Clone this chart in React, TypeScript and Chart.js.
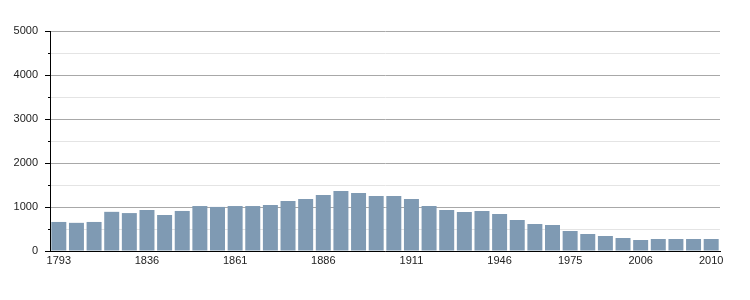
import React, { useEffect, useRef } from "react";
import { Chart, registerables } from "chart.js";

Chart.register(...registerables);

const years = [
  "1793", "1800", "1806", "1821", "1831", "1836", "1841", "1846", "1851", "1856",
  "1861", "1866", "1872", "1876", "1881", "1886", "1891", "1896", "1901", "1906",
  "1911", "1921", "1926", "1931", "1936", "1946", "1954", "1962", "1968", "1975",
  "1982", "1990", "1999", "2006", "2007", "2008", "2009", "2010",
];

const population = [
  660, 640, 660, 890, 862, 932, 818, 910, 1022, 1002,
  1022, 1022, 1045, 1136, 1182, 1273, 1364, 1318, 1250, 1250,
  1182, 1023, 932, 886, 909, 841, 705, 614, 591, 455,
  386, 341, 295, 250, 273, 273, 273, 273,
];

const shownYears = ["1793", "1836", "1861", "1886", "1911", "1946", "1975", "2006", "2010"];

const yMax = 5000;
const yStep = 500;

const FONT = "'Liberation Sans', Arial, sans-serif";

const tickMarks = {
  id: "tickMarks",
  afterDatasetsDraw(chart: any) {
    const y = chart.scales.y;
    const ctx = chart.ctx;
    ctx.save();
    ctx.strokeStyle = "#000";
    ctx.lineWidth = 1;
    y.ticks.forEach((t: any) => {
      const py = Math.round(y.getPixelForValue(t.value)) + 0.5;
      const len = t.value % 1000 === 0 ? 5 : 2;
      ctx.beginPath();
      ctx.moveTo(y.right - len, py);
      ctx.lineTo(y.right, py);
      ctx.stroke();
    });
    ctx.restore();
  },
};

export default function App() {
  const ref = useRef<HTMLCanvasElement | null>(null);

  useEffect(() => {
    if (!ref.current) return;
    const chart = new Chart(ref.current, {
      type: "bar",
      data: {
        labels: years,
        datasets: [
          {
            data: population,
            backgroundColor: "#7f9ab3",
            borderWidth: 0,
            barPercentage: 0.85,
            categoryPercentage: 1,
          },
        ],
      },
      options: {
        animation: false,
        responsive: false,
        devicePixelRatio: 1,
        layout: { padding: { left: 0, right: 30, top: 31, bottom: 0 } },
        plugins: {
          legend: { display: false },
          tooltip: { enabled: false },
        },
        scales: {
          x: {
            grid: { display: false, drawTicks: false },
            border: { display: true, color: "#000", width: 1 },
            ticks: {
              autoSkip: false,
              maxRotation: 0,
              minRotation: 0,
              padding: 3,
              color: "#222",
              font: { family: FONT, size: 11 },
              callback: (_v: any, i: number) =>
                shownYears.includes(years[i]) ? years[i] : "",
            },
            afterFit: (s: any) => {
              s.height = 49;
            },
          },
          y: {
            min: 0,
            max: yMax,
            grid: {
              drawTicks: false,
              color: (c: any) =>
                c.tick && c.tick.value % 1000 === 0 ? "#a8a8a8" : "#e4e4e4",
            },
            border: { display: true, color: "#000", width: 1 },
            ticks: {
              stepSize: yStep,
              padding: 12,
              color: "#222",
              font: { family: FONT, size: 11 },
              callback: (v: any) => (Number(v) % 1000 === 0 ? String(v) : ""),
            },
            afterFit: (s: any) => {
              s.width = 50;
            },
          },
        },
      },
      plugins: [tickMarks],
    });
    return () => chart.destroy();
  }, []);

  return (
    <div style={{ position: "fixed", left: 0, top: 0, width: 750, height: 300, background: "#fff" }}>
      <canvas ref={ref} width={750} height={300} />
    </div>
  );
}
